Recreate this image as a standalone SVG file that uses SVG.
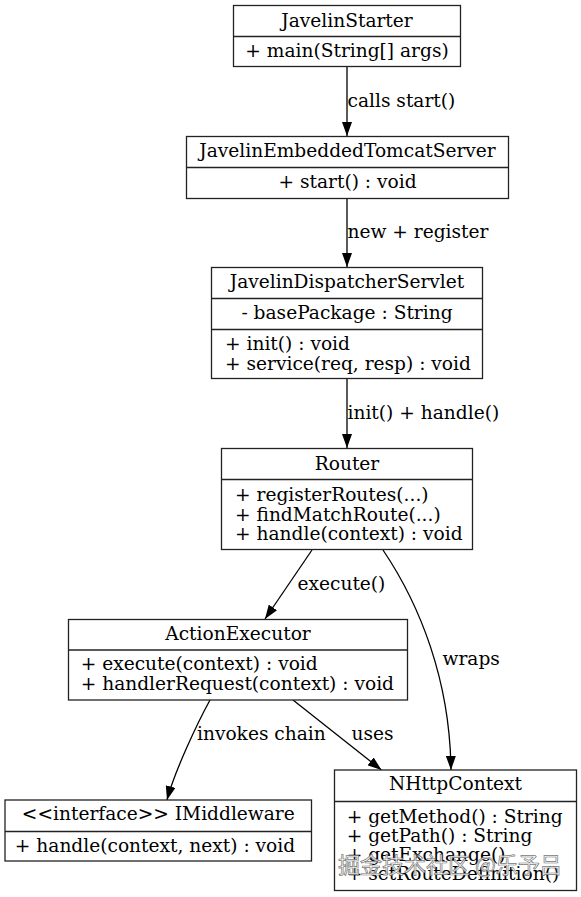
<svg xmlns="http://www.w3.org/2000/svg" width="581" height="897" viewBox="0 0 581 897">
<defs>
<style>
.box{fill:#fff;stroke:#222;stroke-width:1.3}
.sep{stroke:#222;stroke-width:1.3}
text{font-family:"DejaVu Serif","Liberation Serif",serif;font-size:18.6px;fill:#000}
.c{text-anchor:middle}
.edge{fill:none;stroke:#000;stroke-width:1.3}
.wm{font-family:"Noto Sans CJK SC","DejaVu Sans",sans-serif;font-size:22px;fill:#fff;fill-opacity:0.85;stroke:#777;stroke-width:0.7}
</style>
<marker id="ah" viewBox="0 0 14 10" refX="14" refY="5" markerWidth="14" markerHeight="10" markerUnits="userSpaceOnUse" orient="auto">
<path d="M0,0 L14,5 L0,10 z" fill="#000"/>
</marker>
</defs>
<rect width="581" height="897" fill="#fff"/>
<g id="connectors">
<path class="edge" d="M347,67 L347,136" marker-end="url(#ah)"/>
<text x="347.5" y="106.5">calls start()</text>
<path class="edge" d="M347,198 L347,267" marker-end="url(#ah)"/>
<text x="347.5" y="237.5">new + register</text>
<path class="edge" d="M347,378 L347,448" marker-end="url(#ah)"/>
<text x="347.5" y="418.5">init() + handle()</text>
<path class="edge" d="M312,550 L265,619" marker-end="url(#ah)"/>
<text x="297.5" y="590">execute()</text>
<path class="edge" d="M383,550 C420,605 450,680 451,770" marker-end="url(#ah)"/>
<text x="442.5" y="665">wraps</text>
<path class="edge" d="M210,700 C198,722 175,770 167,800" marker-end="url(#ah)"/>
<text x="197" y="739.5">invokes chain</text>
<path class="edge" d="M293,700 L381.5,770" marker-end="url(#ah)"/>
<text x="351.5" y="739.5">uses</text>
</g>
<g id="JavelinStarter">
<rect class="box" x="233.5" y="5.5" width="227" height="61"/>
<line class="sep" x1="233.5" y1="36.5" x2="460.5" y2="36.5"/>
<text class="c" x="347" y="26.7">JavelinStarter</text>
<text class="c" x="347" y="57.3">+ main(String[] args)</text>
</g>
<g id="JavelinEmbeddedTomcatServer">
<rect class="box" x="186.5" y="136.5" width="322" height="62"/>
<line class="sep" x1="186.5" y1="167.5" x2="508.5" y2="167.5"/>
<text class="c" x="347.5" y="157.3">JavelinEmbeddedTomcatServer</text>
<text class="c" x="347.5" y="187.5">+ start() : void</text>
</g>
<g id="JavelinDispatcherServlet">
<rect class="box" x="211.5" y="267.5" width="271" height="111"/>
<line class="sep" x1="211.5" y1="298.5" x2="482.5" y2="298.5"/>
<line class="sep" x1="211.5" y1="329.5" x2="482.5" y2="329.5"/>
<text class="c" x="347" y="287.5">JavelinDispatcherServlet</text>
<text class="c" x="347" y="318.5">- basePackage : String</text>
<text x="225" y="349.5">+ init() : void</text>
<text x="225" y="369.5">+ service(req, resp) : void</text>
</g>
<g id="Router">
<rect class="box" x="221.5" y="448.5" width="251" height="101"/>
<line class="sep" x1="221.5" y1="479.5" x2="472.5" y2="479.5"/>
<text class="c" x="347" y="469.5">Router</text>
<text x="235" y="500.5">+ registerRoutes(...)</text>
<text x="235" y="520.5">+ findMatchRoute(...)</text>
<text x="235" y="540.3">+ handle(context) : void</text>
</g>
<g id="ActionExecutor">
<rect class="box" x="68.5" y="619.5" width="339" height="80.5"/>
<line class="sep" x1="68.5" y1="650" x2="407.5" y2="650"/>
<text class="c" x="238" y="640">ActionExecutor</text>
<text x="80.7" y="670">+ execute(context) : void</text>
<text x="80.7" y="690">+ handlerRequest(context) : void</text>
</g>
<g id="IMiddleware">
<rect class="box" x="5" y="800" width="306.5" height="61"/>
<line class="sep" x1="5" y1="831.5" x2="311.5" y2="831.5"/>
<text class="c" x="158.3" y="820">&lt;&lt;interface&gt;&gt; IMiddleware</text>
<text class="c" x="155" y="851.5">+ handle(context, next) : void</text>
</g>
<g id="NHttpContext">
<rect class="box" x="334.5" y="770" width="242" height="120.5"/>
<line class="sep" x1="334.5" y1="801.5" x2="576.5" y2="801.5"/>
<text class="c" x="455.5" y="790">NHttpContext</text>
<text x="346.7" y="823">+ getMethod() : String</text>
<text x="346.7" y="842">+ getPath() : String</text>
<text x="346.7" y="861">+ getExchange()</text>
<text x="346.7" y="880">+ setRouteDefinition()</text>
</g>
<text class="wm" x="338" y="873">掘金技术社区 @乐予吕</text>
</svg>
